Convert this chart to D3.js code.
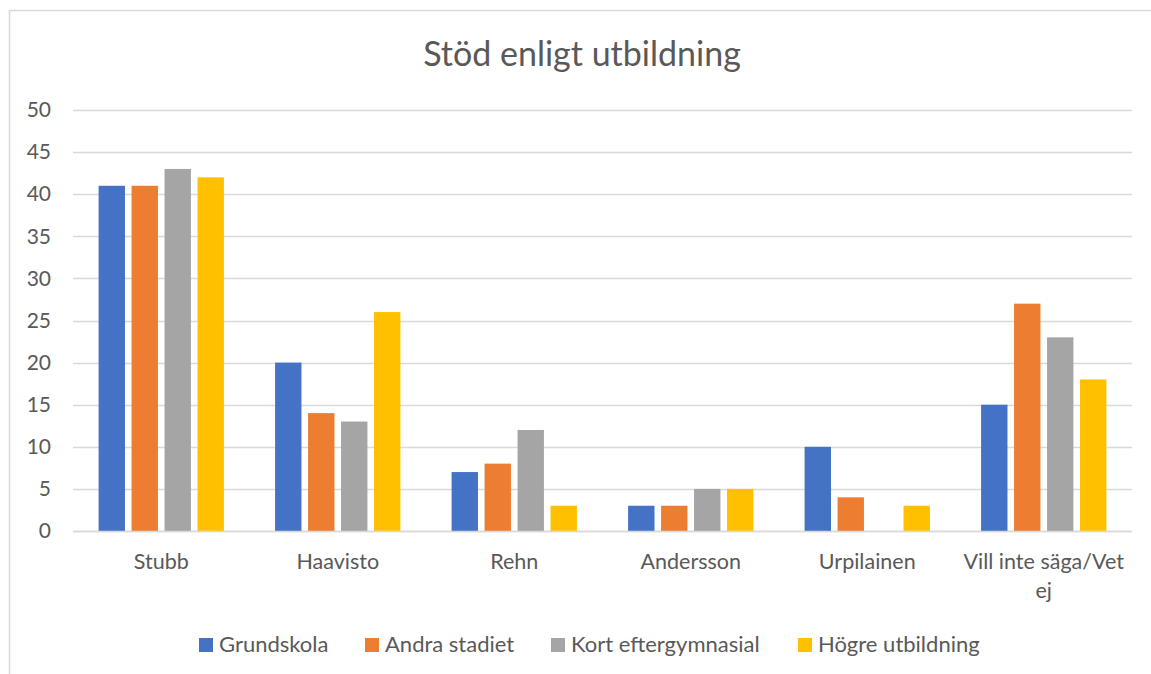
<!DOCTYPE html>
<html>
<head>
<meta charset="utf-8">
<script src="https://cdn.jsdelivr.net/npm/d3@7"></script>
<style>
	body { margin: 0; background: #fff; }
	text { font-family: Lato, "Open Sans", sans-serif; fill: #595959; }
</style>
</head>
<body>
<div class="chart"></div>
<script>
const categories = ['Stubb', 'Haavisto', 'Rehn', 'Andersson', 'Urpilainen', 'Vill inte säga/Vet ej'];
const seriesNames = ['Grundskola', 'Andra stadiet', 'Kort eftergymnasial', 'Högre utbildning'];
const grundskola = [41, 20, 7, 3, 10, 15];
const andraStadiet = [41, 14, 8, 3, 4, 27];
const kortEftergymnasial = [43, 13, 12, 5, 0, 23];
const hogreUtbildning = [42, 26, 3, 5, 3, 18];
const yTicks = [0, 5, 10, 15, 20, 25, 30, 35, 40, 45, 50];
const colors = ['#4472c4', '#ed7d31', '#a5a5a5', '#ffc000'];

const seriesValues = [grundskola, andraStadiet, kortEftergymnasial, hogreUtbildning];

chart();

function chart() {
	const width = 1151;
	const height = 674;
	const margin = {top: 110, right: 19, bottom: 143, left: 73};

	const svg = d3.select('.chart')
		.append('svg')
		.attr('width', width)
		.attr('height', height);

	// outer chart border (only top/left visible)
	svg.append('rect')
		.attr('x', 9.5)
		.attr('y', 10.5)
		.attr('width', width + 10)
		.attr('height', height + 10)
		.attr('fill', 'none')
		.attr('stroke', '#d9d9d9')
		.attr('stroke-width', 1.5);

	const x = d3.scaleBand()
		.domain(categories)
		.range([margin.left, width - margin.right])
		.paddingInner(0.29)
		.paddingOuter(0.145);

	const x1 = d3.scaleBand()
		.domain(seriesNames)
		.range([0, x.bandwidth()])
		.paddingInner(0.2);

	const y = d3.scaleLinear()
		.domain([0, 50])
		.range([height - margin.bottom, margin.top]);

	// gridlines
	svg.append('g')
		.selectAll('line')
		.data(yTicks)
		.enter()
		.append('line')
		.attr('x1', margin.left)
		.attr('x2', width - margin.right)
		.attr('y1', d => Math.round(y(d)) + 0.5)
		.attr('y2', d => Math.round(y(d)) + 0.5)
		.attr('stroke', '#d9d9d9')
		.attr('stroke-width', 1.5);

	// y axis labels
	const yAxis = d3.axisLeft(y).tickValues(yTicks).tickSize(0).tickPadding(0);
	svg.append('g')
		.attr('transform', `translate(${margin.left - 22},0)`)
		.call(yAxis)
		.call(g => g.select('.domain').remove())
		.selectAll('text')
		.style('font-size', '21px')
		.style('font-family', 'Lato, sans-serif')
		.attr('fill', '#595959');

	// bars
	const groups = svg.append('g')
		.selectAll('g')
		.data(categories)
		.enter()
		.append('g')
		.attr('transform', d => `translate(${x(d)},0)`);

	groups.selectAll('rect')
		.data((cat, i) => seriesNames.map((s, j) => ({series: s, value: seriesValues[j][i], color: colors[j]})))
		.enter()
		.append('rect')
		.attr('x', d => x1(d.series))
		.attr('y', d => y(d.value))
		.attr('width', x1.bandwidth())
		.attr('height', d => y(0) - y(d.value))
		.attr('fill', d => d.color);

	// x axis baseline over bars
	svg.append('line')
		.attr('x1', margin.left)
		.attr('x2', width - margin.right)
		.attr('y1', Math.round(y(0)) + 0.5)
		.attr('y2', Math.round(y(0)) + 0.5)
		.attr('stroke', '#d9d9d9')
		.attr('stroke-width', 1.5);

	// category labels, wrap long ones
	const catLabels = svg.append('g')
		.selectAll('text')
		.data(categories)
		.enter()
		.append('text')
		.attr('x', d => x(d) + x.bandwidth() / 2)
		.attr('y', y(0) + 38)
		.style('font-size', '21.5px')
		.style('text-anchor', 'middle');

	catLabels.each(function(d) {
		const t = d3.select(this);
		if (d === 'Vill inte säga/Vet ej') {
			t.append('tspan').attr('x', x(d) + x.bandwidth() / 2).text('Vill inte säga/Vet');
			t.append('tspan').attr('x', x(d) + x.bandwidth() / 2).attr('dy', 29).text('ej');
		} else {
			t.text(d);
		}
	});

	// title
	svg.append('text')
		.attr('x', 582)
		.attr('y', 66)
		.style('font-size', '34px')
		.style('text-anchor', 'middle')
		.text('Stöd enligt utbildning');

	// legend
	const legendX = [199, 365, 551, 798];
	const legend = svg.append('g')
		.selectAll('g')
		.data(seriesNames)
		.enter()
		.append('g')
		.attr('transform', (d, i) => `translate(${legendX[i]},638)`);

	legend.append('rect')
		.attr('width', 14)
		.attr('height', 14)
		.attr('fill', (d, i) => colors[i]);

	legend.append('text')
		.attr('x', 20)
		.attr('y', 14)
		.style('font-size', '22px')
		.text(d => d);
}
</script>
</body>
</html>
